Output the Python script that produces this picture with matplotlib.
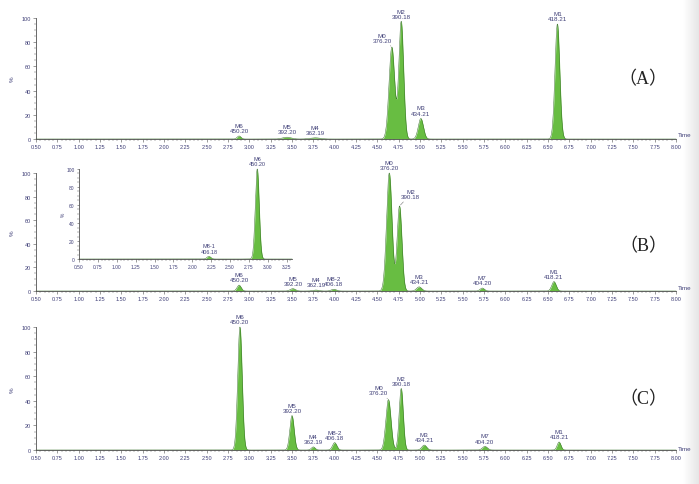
import numpy as np
import matplotlib.pyplot as plt
from matplotlib.ticker import MultipleLocator

W, H = 699, 485

# panel A peaks
a_names = ['M6', 'M5', 'M4', 'M0', 'M2', 'M3', 'M1']
a_mass = ['450.20', '392.20', '362.19', '376.20', '390.18', '434.21', '418.21']
a_rt = [2.88, 3.44, 3.77, 4.67, 4.78, 5.01, 6.61]
a_height = [2.5, 1.5, 1.0, 76, 97, 17, 95]
a_width = [0.022, 0.05, 0.06, 0.033, 0.028, 0.03, 0.028]

# panel B peaks
b_names = ['M6', 'M5', 'M4', 'M8-2', 'M0', 'M2', 'M3', 'M7', 'M1']
b_mass = ['450.20', '392.20', '362.19', '406.18', '376.20', '390.18', '434.21', '404.20', '418.21']
b_rt = [2.88, 3.51, 3.78, 3.99, 4.64, 4.76, 4.99, 5.73, 6.57]
b_height = [5, 2, 0.8, 1.5, 100, 72, 3.5, 2.5, 8]
b_width = [0.024, 0.03, 0.035, 0.03, 0.032, 0.028, 0.03, 0.025, 0.026]

# inset of panel B
i_names = ['M8-1', 'M6']
i_mass = ['406.18', '450.20']
i_rt = [2.22, 2.86]
i_height = [3, 100]
i_width = [0.025, 0.026]

# panel C peaks
c_names = ['M6', 'M5', 'M4', 'M8-2', 'M0', 'M2', 'M3', 'M7', 'M1']
c_mass = ['450.20', '392.20', '362.19', '406.18', '376.20', '390.18', '434.21', '404.20', '418.21']
c_rt = [2.89, 3.50, 3.75, 4.00, 4.63, 4.78, 5.05, 5.76, 6.63]
c_height = [100, 28, 2.5, 6, 41, 50, 4, 3, 6.5]
c_width = [0.026, 0.025, 0.022, 0.025, 0.03, 0.024, 0.028, 0.028, 0.022]

FILL = '#68bd42'
EDGE = '#356f26'
TXT = '#404078'
AXC = '#505050'

fig = plt.figure(figsize=(W / 100, H / 100), dpi=100)


def make_axes(x0, y0, x1, y100, xlim):
    # pixel box: x0..x1 horizontally, y0 is the 0% row, y100 the 100% row
    ax = fig.add_axes([x0 / W, (H - y0) / H, (x1 - x0) / W, (y0 - y100) / H])
    ax.set_xlim(*xlim)
    ax.set_ylim(0, 100)
    ax.patch.set_alpha(0)
    for s in ['top', 'right']:
        ax.spines[s].set_visible(False)
    for s in ['left', 'bottom']:
        ax.spines[s].set_color(AXC)
        ax.spines[s].set_linewidth(0.6)
    ax.xaxis.set_major_locator(MultipleLocator(0.25))
    ax.xaxis.set_minor_locator(MultipleLocator(0.05))
    ax.yaxis.set_major_locator(MultipleLocator(20))
    ax.yaxis.set_minor_locator(MultipleLocator(5))
    ax.xaxis.set_major_formatter(lambda v, p: '%.2f' % v)
    ax.tick_params(which='major', length=2.2, width=0.4, color=AXC,
                   labelsize=4, labelcolor=TXT, pad=1.5)
    ax.tick_params(which='minor', length=1.2, width=0.3, color=AXC)
    for lab in ax.get_xticklabels() + ax.get_yticklabels():
        lab.set_family('Liberation Sans')
    return ax


def draw_peaks(ax, names, mass, rt, height, width, lo, hi, fs=4.5, offsets=None):
    t = np.linspace(lo, hi, 4000)
    y = np.zeros_like(t)
    for r, h, w in zip(rt, height, width):
        y += h * np.exp(-0.5 * ((t - r) / w) ** 2)
    ax.fill_between(t, 0, y, color=FILL, lw=0, clip_on=False)
    ax.plot(t, y, color=EDGE, lw=0.35, clip_on=False)
    offsets = offsets or {}
    for n, m, r, h in zip(names, mass, rt, height):
        dx, dy = offsets.get(n, (0, 2))
        ax.annotate(n + '\n' + m, xy=(r, h), xytext=(dx, dy), textcoords='offset points',
                    ha='center', va='bottom', fontsize=fs, color=TXT,
                    family='Liberation Sans', linespacing=1.05,
                    arrowprops=None if n not in offsets or dx == 0 else
                    dict(arrowstyle='-', color='#707070', lw=0.4, shrinkA=0, shrinkB=1))


axA = make_axes(36, 140, 676, 19, (0.5, 8.0))
draw_peaks(axA, a_names, a_mass, a_rt, a_height, a_width, 0.5, 8.0,
           offsets={'M0': (-7, 3)})

axB = make_axes(36, 292, 676, 174, (0.5, 8.0))
draw_peaks(axB, b_names, b_mass, b_rt, b_height, b_width, 0.5, 8.0,
           offsets={'M2': (8, 5)})

axC = make_axes(36, 451, 676, 328, (0.5, 8.0))
draw_peaks(axC, c_names, c_mass, c_rt, c_height, c_width, 0.5, 8.0,
           offsets={'M0': (-7, 3)})

axI = make_axes(79, 260, 292, 170, (0.5, 3.32))
axI.tick_params(which='major', labelsize=3.5, length=1.8)
draw_peaks(axI, i_names, i_mass, i_rt, i_height, i_width, 0.5, 3.32, fs=4)

# "%" axis titles and "Time" labels
for yc in [79, 233, 390]:
    fig.text(12 / W, 1 - yc / H, '%', rotation=90, fontsize=4.5, color=TXT,
             ha='center', va='center', family='Liberation Sans')
fig.text(63 / W, 1 - 215 / H, '%', rotation=90, fontsize=3.5, color=TXT,
         ha='center', va='center', family='Liberation Sans')
for yc in [138, 291, 452]:
    fig.text(678 / W, 1 - yc / H, 'Time', fontsize=4.5, color=TXT,
             ha='left', va='bottom', family='Liberation Sans')

# panel tags
for tag, yc in [('（A）', 80), ('（B）', 247), ('（C）', 400)]:
    fig.text(643 / W, 1 - yc / H, tag, fontsize=13, color='#222222',
             ha='center', va='center', family=['Liberation Serif', 'Noto Sans CJK SC'])

# grey page edge on the right
edge = fig.add_axes([683 / W, 0, 16 / W, 1])
edge.imshow(np.linspace(1, 0.9, 64)[None, :], cmap='gray', vmin=0, vmax=1,
            aspect='auto', extent=[0, 1, 0, 1])
edge.set_axis_off()

fig.savefig('out.png', dpi=100)
